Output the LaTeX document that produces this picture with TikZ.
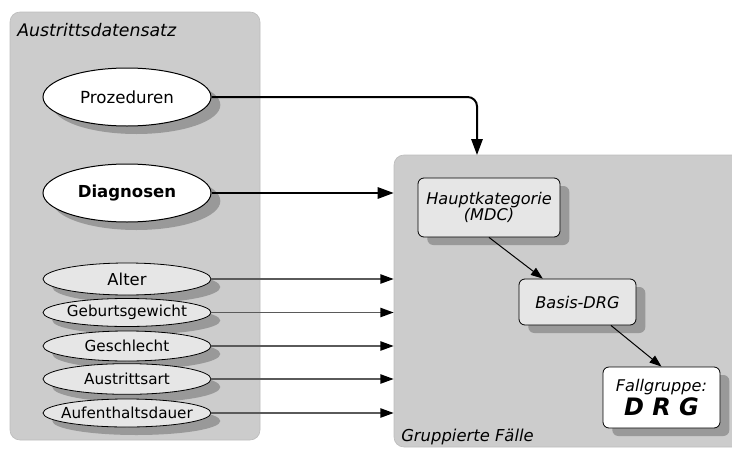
\documentclass[tikz,border=0pt]{standalone}
\usepackage{fontspec}
\setmainfont{DejaVu Sans}
\usetikzlibrary{shapes.geometric,shadows,arrows.meta}
\definecolor{panelgray}{HTML}{CCCCCC}
\definecolor{panelborder}{HTML}{BDBDBD}
\definecolor{shadowgray}{HTML}{999999}
\definecolor{lightfill}{HTML}{E6E6E6}
\definecolor{linegray}{HTML}{5A5A5A}
\newcommand{\zw}[1]{\makebox[0pt]{#1}}
\begin{document}
\begin{tikzpicture}[x=0.75pt,y=-0.75pt,
  panel/.style={rectangle, draw=panelborder, line width=0.5pt, fill=panelgray, rounded corners=7.5pt, inner sep=0pt},
  shade/.style={drop shadow={shadow xshift=7pt, shadow yshift=-6pt, fill=shadowgray, opacity=1}},
  bigell/.style={ellipse, draw=black, line width=0.75pt, fill=white, minimum width=126pt, minimum height=43.5pt, inner sep=0pt, shade},
  smallell/.style={ellipse, draw=black, line width=0.6pt, fill=lightfill, minimum width=126pt, inner sep=0pt, shade, font=\fontsize{11.4}{13}\selectfont},
  catbox/.style={rectangle, rounded corners=4.5pt, draw=black, line width=0.6pt, fill=lightfill, inner sep=0pt, align=center, font=\fontsize{12.1}{12.6}\selectfont\itshape, shade},
  title/.style={anchor=west, inner sep=0pt, font=\itshape},
  thickarrow/.style={line width=1.5pt, -{Triangle[length=12pt,width=8.5pt]}},
  thinarrow/.style={draw=linegray, line width=1.1pt, -{Triangle[length=10pt,width=7pt,fill=black,color=black]}},
  innerarrow/.style={line width=0.75pt, -{Triangle[length=9pt,width=6.5pt]}}
]
\useasboundingbox (0,0) rectangle (732,450);
\clip (0,0) rectangle (732,450);

% panels
\node[panel, minimum width=187.5pt, minimum height=321pt] (L) at (135,226) {};
\node[panel, minimum width=274.5pt, minimum height=219pt] (R) at (577,301) {};
\node[title, font=\fontsize{13}{15}\selectfont\itshape] (Lt) at (17,30) {Austrittsdatensatz};
\node[title, font=\fontsize{12.3}{14}\selectfont\itshape] (Rt) at (401,437) {Gruppierte Fälle};

% input ellipses
\node[bigell, font=\fontsize{12.5}{14}\selectfont] (P) at (127,97) {\zw{Prozeduren}};
\node[bigell, font=\fontsize{12.4}{14}\selectfont\bfseries] (D) at (127,193) {\zw{Diagnosen}};
\node[smallell, minimum height=24pt, font=\fontsize{12.3}{14}\selectfont] (A) at (127,279) {\zw{Alter}};
\node[smallell, minimum height=21pt] (G) at (127,312.5) {\zw{Geburtsgewicht}};
\node[smallell, minimum height=22.5pt] (S) at (127,346) {\zw{Geschlecht}};
\node[smallell, minimum height=23pt] (T) at (127,379) {\zw{Austrittsart}};
\node[smallell, minimum height=21pt] (U) at (127,413) {\zw{Aufenthaltsdauer}};

% grouping boxes
\node[catbox, minimum width=106.5pt, minimum height=44.25pt] (H) at (489,207.5) {Hauptkategorie\\(MDC)};
\node[catbox, minimum width=87.75pt, minimum height=34.5pt] (B) at (577.5,302) {Basis-DRG};
\node[catbox, fill=white, minimum width=87.75pt, minimum height=45.75pt] (F) at (661.5,397.5)
  {Fallgruppe:\\[1pt]{\fontsize{18}{20}\selectfont\bfseries D R G}};

% connectors
\coordinate (ptgt) at (477,155);
\draw[thickarrow, rounded corners=7pt] (P.east) -| (ptgt);
\draw[thickarrow] (D.east) -- (D.east -| R.west);
\draw[thinarrow] (A.east) -- (A.east -| R.west);
\draw[thinarrow] (G.east) -- (G.east -| R.west);
\draw[thinarrow] (S.east) -- (S.east -| R.west);
\draw[thinarrow] (T.east) -- (T.east -| R.west);
\draw[thinarrow] (U.east) -- (U.east -| R.west);
\draw[innerarrow] (H.south) -- (B.146);
\draw[innerarrow] (B.-35) -- (F.north);
\end{tikzpicture}
\end{document}
